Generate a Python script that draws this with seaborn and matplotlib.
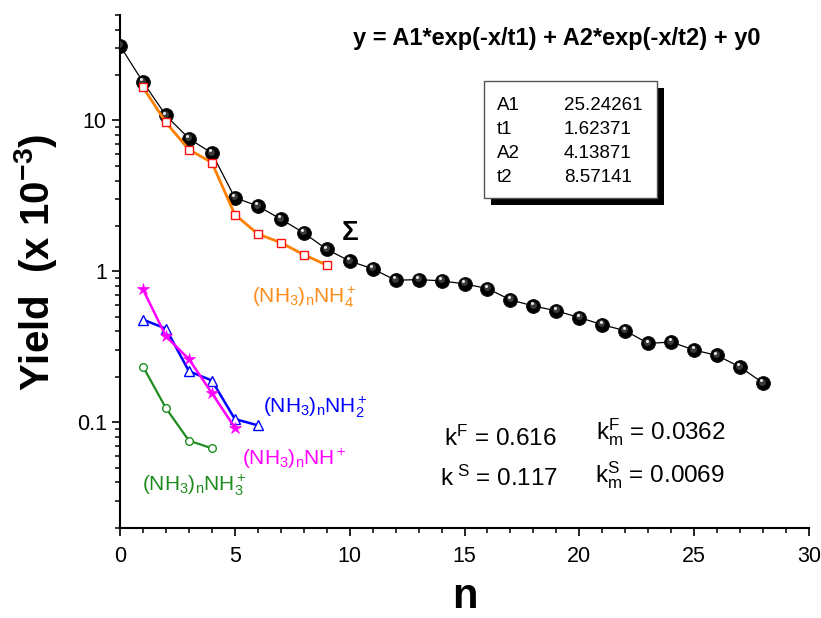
import numpy as np
import pandas as pd
import matplotlib
matplotlib.use("Agg")
import matplotlib.pyplot as plt
import matplotlib.transforms as mtransforms
from matplotlib.patches import Rectangle
from matplotlib.ticker import LogLocator, FixedLocator, NullFormatter, MultipleLocator
import seaborn as sns

# ---------------- data ----------------
n_sum = list(range(29))
y_sum = [31.3, 17.97, 10.8, 7.59, 6.07, 3.08, 2.71, 2.22, 1.80, 1.40,
         1.17, 1.04, 0.873, 0.882, 0.865, 0.826, 0.769, 0.647, 0.590, 0.547,
         0.494, 0.443, 0.404, 0.333, 0.340, 0.301, 0.277, 0.232, 0.182]

n_nh4 = [1, 2, 3, 4, 5, 6, 7, 8, 9]
y_nh4 = [16.6, 9.70, 6.41, 5.26, 2.38, 1.77, 1.55, 1.29, 1.10]

n_nh2 = [1, 2, 3, 4, 5, 6]
y_nh2 = [0.479, 0.417, 0.218, 0.189, 0.105, 0.0954]

n_nh = [1, 2, 3, 4, 5]
y_nh = [0.760, 0.371, 0.262, 0.156, 0.092]

n_nh3 = [1, 2, 3, 4]
y_nh3 = [0.234, 0.124, 0.0755, 0.0672]

fit_names = ["A1", "t1", "A2", "t2"]
fit_values = ["25.24261", "1.62371", "4.13871", "8.57141"]

x_ticks = [0, 5, 10, 15, 20, 25, 30]
y_ticks = [0.1, 1, 10]
y_tick_labels = ["0.1", "1", "10"]

# ---------------- style ----------------
sns.set_style("ticks")
plt.rcParams["font.family"] = ["Liberation Sans", "DejaVu Sans"]
plt.rcParams["mathtext.fontset"] = "custom"
plt.rcParams["mathtext.rm"] = "Liberation Sans"
plt.rcParams["mathtext.it"] = "Liberation Sans:italic"
plt.rcParams["mathtext.bf"] = "Liberation Sans:bold"
plt.rcParams["text.color"] = "black"
plt.rcParams["axes.labelcolor"] = "black"
plt.rcParams["xtick.color"] = "black"
plt.rcParams["ytick.color"] = "black"

W, H = 821, 618
fig = plt.figure(figsize=(W / 100, H / 100), dpi=100)
fig.patch.set_facecolor("white")
L, R, T, B = 120, 809, 15, 527.7
ax = fig.add_axes([L / W, 1 - B / H, (R - L) / W, (B - T) / H])
ax.set_facecolor("white")


def fx(px):
    return px / W


def fy(py):
    return 1 - py / H


# Sigma series (black spheres)
sns.lineplot(x=n_sum, y=y_sum, ax=ax, estimator=None, color="black",
             linewidth=0.9, marker="o", markersize=10,
             markerfacecolor="black", markeredgecolor="#111111",
             markeredgewidth=0.6, zorder=3)
hl1 = mtransforms.offset_copy(ax.transData, fig=fig, x=-0.6, y=1.0, units="points")
ax.plot(n_sum, y_sum, linestyle="none", marker="o", markersize=5,
        markerfacecolor="#3a3a3a", markeredgewidth=0, transform=hl1, zorder=4)
hl2 = mtransforms.offset_copy(ax.transData, fig=fig, x=-1.2, y=2.0, units="points")
ax.plot(n_sum, y_sum, linestyle="none", marker="o", markersize=2.2,
        markerfacecolor="#e8e8e8", markeredgewidth=0, transform=hl2, zorder=5)

# (NH3)nNH4+
sns.lineplot(x=n_nh4, y=y_nh4, ax=ax, estimator=None, color="#FF8000",
             linewidth=2.0, marker="s", markersize=5.5,
             markerfacecolor="white", markeredgecolor="#FF1010",
             markeredgewidth=1.0, zorder=6)
# (NH3)nNH2+
sns.lineplot(x=n_nh2, y=y_nh2, ax=ax, estimator=None, color="#0000FF",
             linewidth=1.8, marker="^", markersize=7,
             markerfacecolor="white", markeredgecolor="#0000FF",
             markeredgewidth=1.0, zorder=6)
# (NH3)nNH+
sns.lineplot(x=n_nh, y=y_nh, ax=ax, estimator=None, color="#FF00FF",
             linewidth=1.8, marker="*", markersize=9,
             markerfacecolor="#FF00FF", markeredgecolor="#FF00FF",
             markeredgewidth=0.5, zorder=7)
# (NH3)nNH3+
sns.lineplot(x=n_nh3, y=y_nh3, ax=ax, estimator=None, color="#1E8C1E",
             linewidth=1.6, marker="o", markersize=5.5,
             markerfacecolor="white", markeredgecolor="#1E8C1E",
             markeredgewidth=1.0, zorder=6)

# ---------------- axes ----------------
ax.set_yscale("log")
ax.set_xlim(0, 30)
ax.set_ylim(0.02, 50)
ax.xaxis.set_major_locator(FixedLocator(x_ticks))
ax.xaxis.set_minor_locator(MultipleLocator(1))
ax.yaxis.set_major_locator(FixedLocator(y_ticks))
ax.set_yticklabels(y_tick_labels)
ax.yaxis.set_minor_locator(LogLocator(base=10, subs=np.arange(2, 10)))
ax.yaxis.set_minor_formatter(NullFormatter())
ax.set_xticklabels([str(t) for t in x_ticks])

for s in ["top", "right"]:
    ax.spines[s].set_visible(False)
for s in ["left", "bottom"]:
    ax.spines[s].set_linewidth(1.5)
    ax.spines[s].set_color("black")

ax.tick_params(axis="both", which="major", direction="out", length=5.5,
               width=1.2, color="black", labelsize=15.5, labelcolor="black")
ax.tick_params(axis="both", which="minor", direction="out", length=3.5,
               width=1.1, color="black")
ax.tick_params(axis="x", which="major", pad=8)
ax.tick_params(axis="y", which="major", pad=4)

ax.set_xlabel("n", fontsize=30, fontweight="bold", va="center")
ax.xaxis.set_label_coords(0.5, (B - 597) / (B - T))
ax.set_ylabel(r"Yield  (x 10$^{\mathbf{-3}}$)", fontsize=29,
              fontweight="bold", va="center")
ax.yaxis.set_label_coords((36 - L) / (R - L), (B - 262) / (B - T))

# ---------------- annotations ----------------
fig.text(fx(353), fy(39), "y = A1*exp(-x/t1) + A2*exp(-x/t2) + y0",
         fontsize=17, fontweight="bold", ha="left", va="center")

# parameter box with shadow
bx0, bx1, by0, by1 = 484, 657, 80.5, 198
shadow = Rectangle((fx(bx0 + 7), fy(by1 + 7)), fx(bx1 - bx0), (by1 - by0) / H,
                   transform=fig.transFigure, facecolor="black",
                   edgecolor="none", zorder=8)
box = Rectangle((fx(bx0), fy(by1)), fx(bx1 - bx0), (by1 - by0) / H,
                transform=fig.transFigure, facecolor="white",
                edgecolor="#555555", linewidth=1.0, zorder=9)
fig.patches.extend([shadow, box])
row_y = [105, 129, 153, 177]
for name, val, yy in zip(fit_names, fit_values, row_y):
    fig.text(fx(497), fy(yy), name, fontsize=13.5, ha="left", va="center", zorder=10)
    fig.text(fx(564), fy(yy), val, fontsize=13.5, ha="left", va="center", zorder=10)

fig.text(fx(350), fy(233), "Σ", fontsize=20, fontweight="bold",
         ha="center", va="center")

fig.text(fx(252), fy(302), r"(NH$_3$)$_\mathrm{n}$NH$_4^+$", color="#FF8C1A",
         fontsize=15, ha="left", va="baseline")
fig.text(fx(263), fy(413), r"(NH$_3$)$_\mathrm{n}$NH$_2^+$", color="#0000FF",
         fontsize=15, ha="left", va="baseline")
fig.text(fx(242), fy(465), r"(NH$_3$)$_\mathrm{n}$NH$^+$", color="#FF00FF",
         fontsize=15, ha="left", va="baseline")
fig.text(fx(142), fy(490), r"(NH$_3$)$_\mathrm{n}$NH$_3^+$", color="#1E8C1E",
         fontsize=15, ha="left", va="baseline")

fig.text(fx(444), fy(446), r"k$^\mathrm{F}$ = 0.616", fontsize=17.5,
         ha="left", va="baseline")
fig.text(fx(440), fy(486), r"k$^{\ \mathrm{S}}$ = 0.117", fontsize=17.5,
         ha="left", va="baseline")
fig.text(fx(596), fy(439), r"k$^\mathrm{F}_\mathrm{m}$ = 0.0362", fontsize=17.5,
         ha="left", va="baseline")
fig.text(fx(595), fy(482), r"k$^\mathrm{S}_\mathrm{m}$ = 0.0069", fontsize=17.5,
         ha="left", va="baseline")

fig.savefig("out.png", dpi=100, facecolor="white")
